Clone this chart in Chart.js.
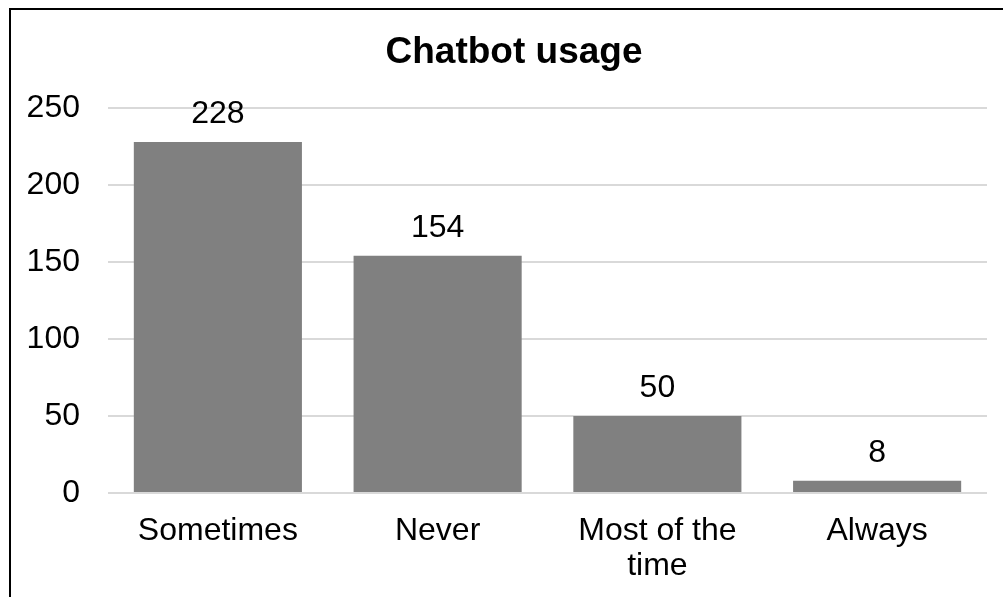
<!DOCTYPE html>
<html>
<head>
<meta charset="utf-8">
<script src="https://cdn.jsdelivr.net/npm/chart.js@4/dist/chart.umd.min.js"></script>
<style>
  html, body { margin: 0; padding: 0; background: #fff; overflow: hidden; }
  #wrap { position: relative; width: 1003px; height: 597px; }
  #frame {
    position: absolute; left: 9px; top: 8px; width: 1100px; height: 700px;
    border-left: 2px solid #000; border-top: 2px solid #000; pointer-events: none;
  }
  canvas { position: absolute; left: 0; top: 0; }
</style>
</head>
<body>
<div id="wrap">
  <canvas id="c" width="1003" height="597"></canvas>
  <div id="frame"></div>
</div>
<script>
// Survey answers: how often respondents use a chatbot
const categories = ['Sometimes', 'Never', ['Most of the', 'time'], 'Always'];
const counts = [228, 154, 50, 8];
const yTicks = [0, 50, 100, 150, 200, 250];
const chartTitle = 'Chatbot usage';

const FONT = '"Liberation Sans", Arial, Helvetica, sans-serif';

// Title centred over the whole framed chart, which runs a little past the right edge
const titlePlugin = {
  id: 'frameTitle',
  afterDraw(chart) {
    const ctx = chart.ctx;
    ctx.save();
    ctx.font = 'bold 37px ' + FONT;
    ctx.fillStyle = '#000';
    ctx.textAlign = 'center';
    ctx.textBaseline = 'alphabetic';
    ctx.fillText(chartTitle, 514, 63);
    ctx.restore();
  }
};

// Writes each bar's count just above the bar
const valueLabels = {
  id: 'valueLabels',
  afterDatasetsDraw(chart) {
    const ctx = chart.ctx;
    const meta = chart.getDatasetMeta(0);
    ctx.save();
    ctx.font = '32px ' + FONT;
    ctx.fillStyle = '#000';
    ctx.textAlign = 'center';
    ctx.textBaseline = 'alphabetic';
    meta.data.forEach((bar, i) => {
      ctx.fillText(String(counts[i]), bar.x, bar.y - 19);
    });
    ctx.restore();
  }
};

new Chart(document.getElementById('c'), {
  type: 'bar',
  data: {
    labels: categories,
    datasets: [{
      data: counts,
      backgroundColor: '#808080',
      borderWidth: 0,
      barPercentage: 0.765,
      categoryPercentage: 1
    }]
  },
  options: {
    responsive: false,
    animation: false,
    layout: { padding: { left: 0, right: 16, top: 108, bottom: 0 } },
    plugins: {
      legend: { display: false },
      tooltip: { enabled: false },
      title: { display: false }
    },
    scales: {
      x: {
        grid: { display: false, drawTicks: false },
        border: { display: false },
        ticks: {
          color: '#000',
          font: { family: FONT, size: 32, lineHeight: 1.094 },
          padding: 21,
          maxRotation: 0,
          autoSkip: false
        },
        afterFit(scale) { scale.height = 104; }
      },
      y: {
        min: 0,
        max: 250,
        afterBuildTicks(scale) { scale.ticks = yTicks.map(v => ({ value: v })); },
        grid: { color: '#d9d9d9', lineWidth: 2, drawTicks: false },
        border: { display: false },
        ticks: {
          color: '#000',
          font: { family: FONT, size: 32 },
          padding: 28
        },
        afterFit(scale) { scale.width = 108; }
      }
    }
  },
  plugins: [valueLabels, titlePlugin]
});
</script>
</body>
</html>
